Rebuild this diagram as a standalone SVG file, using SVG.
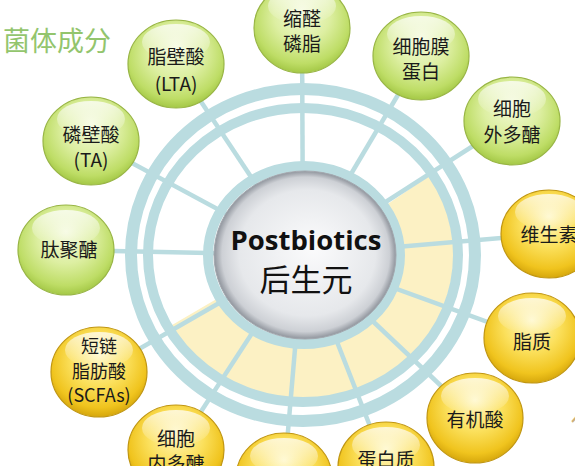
<svg xmlns="http://www.w3.org/2000/svg" width="575" height="466" viewBox="0 0 575 466">
<defs>
<radialGradient id="gGreen" cx="50%" cy="42%" r="58%" fx="50%" fy="30%">
<stop offset="0" stop-color="#F4FADC"/><stop offset="0.5" stop-color="#DDEFA2"/><stop offset="0.85" stop-color="#BEDD66"/><stop offset="1" stop-color="#A4C846"/>
</radialGradient>
<radialGradient id="gYellow" cx="50%" cy="42%" r="58%" fx="50%" fy="30%">
<stop offset="0" stop-color="#FFF7C4"/><stop offset="0.5" stop-color="#FBE05C"/><stop offset="0.85" stop-color="#F0C41E"/><stop offset="1" stop-color="#D6A70C"/>
</radialGradient>
<radialGradient id="gCore" cx="50%" cy="50%" r="50%" fx="55%" fy="45%">
<stop offset="0" stop-color="#FBFBFC"/><stop offset="0.75" stop-color="#E6E8EB"/><stop offset="0.92" stop-color="#CDD0D5"/><stop offset="1" stop-color="#90959D"/>
</radialGradient>
<linearGradient id="gHi" x1="0" y1="0" x2="0" y2="1">
<stop offset="0" stop-color="#FFFFFF" stop-opacity="0.75"/><stop offset="1" stop-color="#FFFFFF" stop-opacity="0"/>
</linearGradient>
</defs>
<style>
.band{fill:none;stroke:#BADCE0}
.spoke{stroke:#BADCE0;stroke-width:4.5}
.green{fill:url(#gGreen);stroke:#98B545;stroke-width:1.2}
.yellow{fill:url(#gYellow);stroke:#C09612;stroke-width:1.2}
.hl{fill:url(#gHi)}
.t{font-family:"Noto Sans CJK SC","Noto Sans",sans-serif;font-size:19px;fill:#1A1A1A;text-anchor:middle;dominant-baseline:central}
.s{font-size:18px}
</style>
<rect width="575" height="466" fill="#FFFFFF"/>
<text x="3" y="39" font-family="Noto Sans CJK SC, sans-serif" font-size="27" fill="#93C56D" dominant-baseline="central">菌体成分</text>
<text x="571" y="420" font-family="Noto Sans CJK SC, sans-serif" font-size="26" fill="#CDB078" dominant-baseline="central">代谢产物</text>
<path d="M407.4,190.7 A124.5,118 0 1,1 194.1,312.2" fill="none" stroke="#FCF1C4" stroke-width="52"/>
<g id="connectors">
<line class="spoke" x1="303" y1="255" x2="302" y2="28"/>
<line class="spoke" x1="303" y1="255" x2="421" y2="56"/>
<line class="spoke" x1="303" y1="255" x2="512" y2="121"/>
<line class="spoke" x1="303" y1="255" x2="549" y2="234"/>
<line class="spoke" x1="303" y1="255" x2="532" y2="338"/>
<line class="spoke" x1="303" y1="255" x2="475" y2="418"/>
<line class="spoke" x1="303" y1="255" x2="386" y2="467"/>
<line class="spoke" x1="303" y1="255" x2="284" y2="478"/>
<line class="spoke" x1="303" y1="255" x2="176" y2="450"/>
<line class="spoke" x1="303" y1="255" x2="99" y2="372"/>
<line class="spoke" x1="303" y1="255" x2="66" y2="250"/>
<line class="spoke" x1="303" y1="255" x2="91" y2="141"/>
<line class="spoke" x1="303" y1="255" x2="176" y2="64"/>
</g>
<g id="wheel">
<ellipse class="band" cx="303" cy="255" rx="172" ry="166" stroke-width="12"/>
<ellipse class="band" cx="303" cy="255" rx="155" ry="147" stroke-width="10"/>
<ellipse class="band" cx="304" cy="255" rx="96" ry="89" stroke-width="10"/>
</g>
<g id="center">
<ellipse cx="305" cy="255" rx="91" ry="84" fill="url(#gCore)" stroke="#A3A8AF" stroke-width="1"/>
<text x="306" y="239" font-family="Open Sans, Liberation Sans, sans-serif" font-weight="700" font-size="27.5" fill="#111" text-anchor="middle" dominant-baseline="central">Postbiotics</text>
<text x="306" y="277" font-family="Noto Sans CJK SC, sans-serif" font-size="31" fill="#111" text-anchor="middle" dominant-baseline="central">后生元</text>
</g>
<g id="n1" transform="translate(302,28)"><ellipse class="green" rx="48" ry="45"/><ellipse class="hl" cy="-22" rx="34" ry="18"/><text class="t" y="-11">缩醛</text><text class="t" y="14">磷脂</text></g>
<g id="n2" transform="translate(421,56)"><ellipse class="green" rx="48" ry="44"/><ellipse class="hl" cy="-22" rx="34" ry="18"/><text class="t" y="-11">细胞膜</text><text class="t" y="14">蛋白</text></g>
<g id="n3" transform="translate(512,121)"><ellipse class="green" rx="48" ry="44"/><ellipse class="hl" cy="-22" rx="34" ry="18"/><text class="t" y="-14">细胞</text><text class="t" y="12">外多醣</text></g>
<g id="n4" transform="translate(549,234)"><ellipse class="yellow" rx="48" ry="44"/><ellipse class="hl" cy="-22" rx="34" ry="18"/><text class="t" y="-1">维生素</text></g>
<g id="n5" transform="translate(532,338)"><ellipse class="yellow" rx="48" ry="45"/><ellipse class="hl" cy="-22" rx="34" ry="18"/><text class="t" y="2">脂质</text></g>
<g id="n6" transform="translate(475,418)"><ellipse class="yellow" rx="48" ry="45"/><ellipse class="hl" cy="-22" rx="34" ry="18"/><text class="t" y="0">有机酸</text></g>
<g id="n7" transform="translate(386,467)"><ellipse class="yellow" rx="48" ry="45"/><ellipse class="hl" cy="-22" rx="34" ry="18"/><text class="t" y="-9">蛋白质</text></g>
<g id="n8" transform="translate(284,478)"><ellipse class="yellow" rx="48" ry="45"/><ellipse class="hl" cy="-22" rx="34" ry="18"/></g>
<g id="n9" transform="translate(176,450)"><ellipse class="yellow" rx="48" ry="45"/><ellipse class="hl" cy="-22" rx="34" ry="18"/><text class="t" y="-13">细胞</text><text class="t" y="12">内多醣</text></g>
<g id="n10" transform="translate(99,372)"><ellipse class="yellow" rx="48" ry="45"/><ellipse class="hl" cy="-22" rx="34" ry="18"/><text class="t s" y="-27">短链</text><text class="t s" y="-2">脂肪酸</text><text class="t s" y="22">(SCFAs)</text></g>
<g id="n11" transform="translate(66,250)"><ellipse class="green" rx="48" ry="45"/><ellipse class="hl" cy="-22" rx="34" ry="18"/><text class="t" x="3" y="-2">肽聚醣</text></g>
<g id="n12" transform="translate(91,141)"><ellipse class="green" rx="48" ry="44"/><ellipse class="hl" cy="-22" rx="34" ry="18"/><text class="t" y="-8">磷壁酸</text><text class="t" y="17">(TA)</text></g>
<g id="n13" transform="translate(176,64)"><ellipse class="green" rx="48" ry="44"/><ellipse class="hl" cy="-22" rx="34" ry="18"/><text class="t" y="-9">脂壁酸</text><text class="t" y="18">(LTA)</text></g>
</svg>
